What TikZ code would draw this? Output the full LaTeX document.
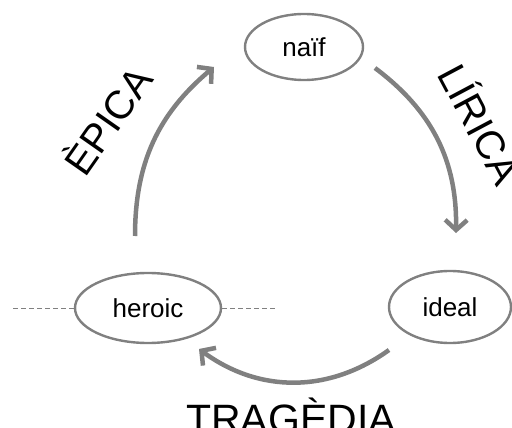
\documentclass[tikz,border=0pt]{standalone}
\usepackage{fontspec}
\setmainfont{Liberation Sans}
\usetikzlibrary{shapes.geometric,arrows.meta}
\definecolor{arcgray}{RGB}{128,128,128}
\tikzset{
  stage/.style={ellipse,draw=arcgray,line width=2.4pt,inner sep=0pt,
    font=\fontsize{26}{30}\selectfont},
  cycle/.style={draw=arcgray,line width=4.5pt,
    -{Straight Barb[length=10pt,width=22pt,line width=4.5pt]}},
  genre/.style={font=\fontsize{40}{46}\selectfont,inner sep=0pt},
  axis/.style={draw=arcgray,line width=1pt,dash pattern=on 5pt off 3pt}
}
\begin{document}
\begin{tikzpicture}[x=1pt,y=1pt]
      \clip (0,0) rectangle (512,-428);
      \draw
        (304,-47) node[stage,minimum width=118pt,minimum height=66pt] (naif){naïf}
        (148,-308) node[stage,minimum width=146pt,minimum height=70pt] (heroic){heroic}
        (450,-307) node[stage,minimum width=122pt,minimum height=72pt] (ideal){ideal};
      \coordinate (l) at (13,-308);
      \coordinate (r) at (278,-308);
      \coordinate (e1) at (135,-236);
      \coordinate (e2) at (214,-67);
      \coordinate (y1) at (375,-68);
      \coordinate (y2) at (456,-233);
      \coordinate (t1) at (389,-350);
      \coordinate (t2) at (199,-349);
      \node[genre,rotate=55] (epica) at (106,-119) {ÈPICA};
      \node[genre,rotate=-62] (lirica) at (482,-123) {LÍRICA};
      \node[genre,font=\fontsize{41}{46}\selectfont,anchor=base] (tragedia) at (291,-433) {TRAGÈDIA};
      \begin{scope}[axis]
        \draw (l) to (heroic);
        \draw (heroic) to (r);
      \end{scope}
      \begin{scope}[cycle]
        \draw (e1) to[bend left=25] (e2);
        \draw (y1) to[bend left=27] (y2);
        \draw (t1) to[bend left=36] (t2);
      \end{scope}
    \end{tikzpicture}
\end{document}
